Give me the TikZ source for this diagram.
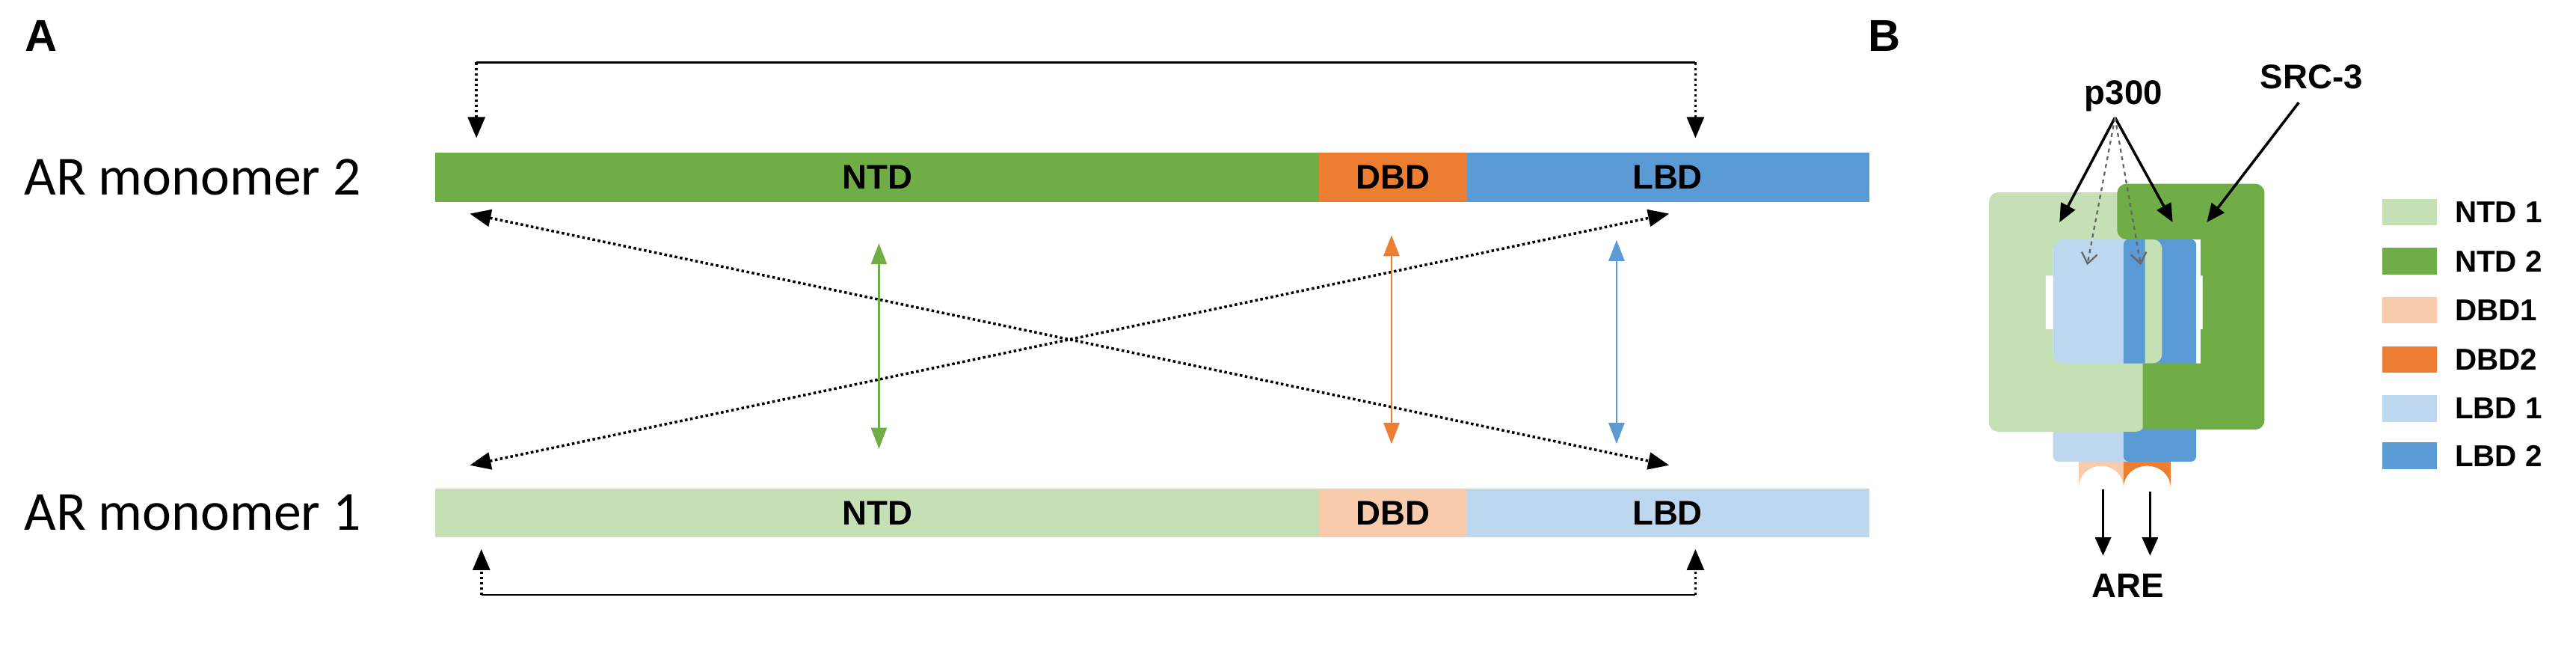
\documentclass[tikz,border=0pt]{standalone}
\usepackage{fontspec}
\setmainfont{Liberation Sans}
\newfontfamily\carlitofont{Carlito}
\usetikzlibrary{arrows.meta}
\definecolor{dg}{HTML}{70AD47}\definecolor{lg}{HTML}{C5E0B4}
\definecolor{do}{HTML}{ED7D31}\definecolor{lo}{HTML}{F8CBAD}
\definecolor{db}{HTML}{5B9BD5}\definecolor{lb}{HTML}{BDD7EE}
\begin{document}
\begin{tikzpicture}[x=0.044cm,y=-0.044cm,
  seg/.style={inner sep=0,outer sep=0,font=\fontsize{26}{28}\selectfont\bfseries},
  mono/.style={font=\carlitofont\fontsize{42}{48}\selectfont,anchor=west},
  dotarr/.style={line width=2pt,dotted,-{Triangle[length=16pt,width=13pt]}},
  darr/.style={line width=2pt,dotted,{Triangle[length=16pt,width=13pt]}-{Triangle[length=16pt,width=13pt]}},
  carr/.style={line width=1.5pt,{Triangle[length=16pt,width=12pt]}-{Triangle[length=16pt,width=12pt]}},
  barr/.style={line width=2pt,-{Triangle[length=14pt,width=12pt]}},
  lab/.style={font=\fontsize{34}{36}\selectfont\bfseries},
  leg/.style={font=\fontsize{23}{25}\selectfont\bfseries,anchor=west}]
\useasboundingbox (0,0) rectangle (1568,394);
\node[lab] (A) at (25,22) {A};
\node[lab] (B) at (1147,22) {B};
% monomers
\path[fill=dg] (265,93) rectangle (803,123); \node[seg] (n2) at (534,108) {NTD};
\path[fill=do] (803,93) rectangle (893,123); \node[seg] (d2) at (848,108) {DBD};
\path[fill=db] (893,93) rectangle (1138,123); \node[seg] (l2) at (1015,108) {LBD};
\path[fill=lg] (265,297) rectangle (803,327); \node[seg] (n1) at (534,312) {NTD};
\path[fill=lo] (803,297) rectangle (893,327); \node[seg] (d1) at (848,312) {DBD};
\path[fill=lb] (893,297) rectangle (1138,327); \node[seg] (l1) at (1015,312) {LBD};
\node[mono] (m2) at (12,108) {AR monomer 2};
\node[mono] (m1) at (12,312) {AR monomer 1};
% top / bottom loops
\coordinate (t1) at (290,38); \coordinate (t2) at (1032,38);
\coordinate (t1e) at (290,84); \coordinate (t2e) at (1032,84);
\draw[line width=1.2pt] (t1) -- (t2);
\draw[dotarr] (t1) -- (t1e); \draw[dotarr] (t2) -- (t2e);
\coordinate (b1) at (293,362); \coordinate (b2) at (1032,362);
\coordinate (b1e) at (293,334); \coordinate (b2e) at (1032,334);
\draw[line width=1.2pt] (b1) -- (b2);
\draw[dotarr] (b1) -- (b1e); \draw[dotarr] (b2) -- (b2e);
% crosses
\coordinate (c1) at (286,130); \coordinate (c2) at (1016,283);
\coordinate (c3) at (286,283); \coordinate (c4) at (1016,130);
\draw[darr] (c1) -- (c2); \draw[darr] (c3) -- (c4);
\coordinate (g1) at (535,148); \coordinate (g2) at (535,273);
\coordinate (o1) at (847,143); \coordinate (o2) at (847,270);
\coordinate (u1) at (984,146); \coordinate (u2) at (984,270);
\draw[carr,dg] (g1) -- (g2); \draw[carr,do] (o1) -- (o2); \draw[carr,db] (u1) -- (u2);
% panel B
\begin{scope}[shift={(1160,0)},scale=0.26]
\path[fill=lo] (405,1040) -- (405,1140) arc[start angle=180,end angle=360,x radius=52.5,y radius=50] -- (510,1040) -- cycle;
\path[fill=do] (510,1040) -- (510,1140) arc[start angle=180,end angle=360,x radius=55,y radius=50] -- (620,1040) -- cycle;
\path[fill=lb,rounded corners=4pt] (345,560) rectangle (530,1080);
\path[fill=db,rounded corners=4pt] (510,560) rectangle (680,1080);
\path[fill=lg,even odd rule,rounded corners=7pt] (195,450) rectangle (560,1010) (345,560) rectangle (600,850);
\path[fill=dg,rounded corners=7pt] (555,1005) -- (840,1005) -- (840,430) -- (495,430) -- (495,560) [sharp corners] -- (690,560) -- (690,850) -- (555,850) -- cycle;
\path[fill=white] (328,645) rectangle (345,770) (680,645) rectangle (695,770);
\node[font=\fontsize{26}{28}\selectfont\bfseries] (p3) at (510,225) {p300};
\node[font=\fontsize{26}{28}\selectfont\bfseries] (src) at (950,180) {SRC-3};
\node[font=\fontsize{26}{28}\selectfont\bfseries] (are) at (520,1370) {ARE};
\coordinate (p0) at (490,275);
\coordinate (pa) at (360,520); \coordinate (pb) at (625,520);
\coordinate (pc) at (425,620); \coordinate (pd) at (550,620);
\coordinate (s0) at (920,240); \coordinate (sa) at (705,520);
\draw[barr] (p0) -- (pa); \draw[barr] (p0) -- (pb); \draw[barr] (s0) -- (sa);
\draw[line width=1.3pt,gray!80!black,dashed,-{Straight Barb[length=8pt,width=12pt]}] (p0) -- (pc);
\draw[line width=1.3pt,gray!80!black,dashed,-{Straight Barb[length=8pt,width=12pt]}] (p0) -- (pd);
\coordinate (r1) at (462,1145); \coordinate (r1e) at (462,1300);
\coordinate (r2) at (572,1150); \coordinate (r2e) at (572,1300);
\draw[barr] (r1) -- (r1e); \draw[barr] (r2) -- (r2e);
\foreach \c/\t/\y in {lg/NTD 1/465,dg/NTD 2/580,lo/DBD1/695,do/DBD2/810,lb/LBD 1/925,db/LBD 2/1035}{
  \path[fill=\c] (1115,\y) rectangle (1243,\y+62);
  \node[leg] at (1275,\y+31) {\t};}
\end{scope}
\end{tikzpicture}
\end{document}
